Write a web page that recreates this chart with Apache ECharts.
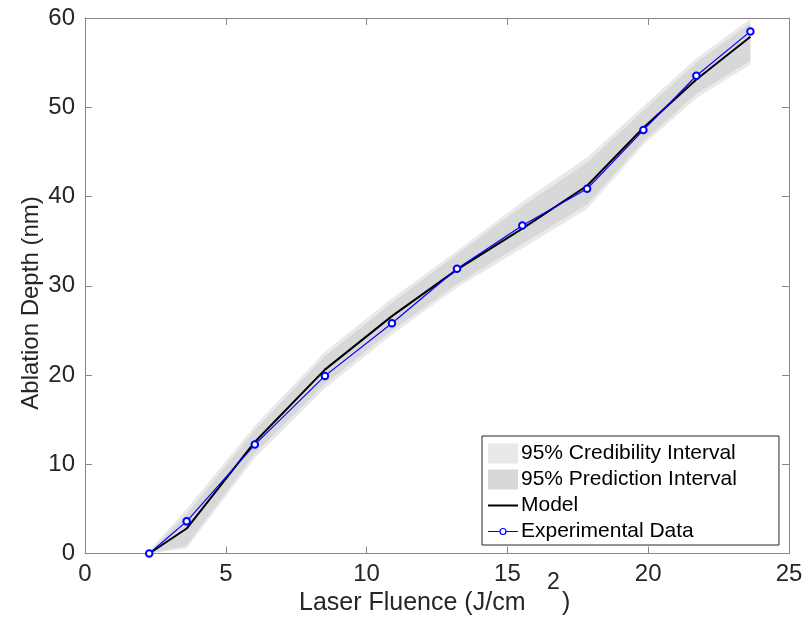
<!DOCTYPE html>
<html>
<head>
<meta charset="utf-8">
<script src="https://cdn.jsdelivr.net/npm/echarts@6/dist/echarts.min.js"></script>
<style>
html,body{margin:0;padding:0;background:#fff;}
#chart{width:811px;height:627px;}
</style>
</head>
<body>
<div id="chart"></div>
<script>
// ---- data ----
var fluence      = [2.28, 3.61, 6.03, 8.52, 10.90, 13.21, 15.53, 17.83, 19.83, 21.71, 23.63];
var experimental = [0.0, 3.6, 12.2, 19.9, 25.8, 31.9, 36.75, 40.86, 47.44, 53.53, 58.5];
var model        = [0.0, 2.8, 12.5, 20.6, 26.6, 31.8, 36.4, 41.2, 47.7, 53.1, 57.9];
var credLower    = [0.0, 0.6, 10.7, 18.5, 24.5, 29.8, 34.2, 38.6, 45.8, 51.0, 54.8];
var credUpper    = [0.3, 5.0, 14.3, 22.6, 28.6, 33.9, 39.4, 44.4, 50.1, 55.5, 59.9];
var predLower    = [0.0, 0.9, 11.2, 19.0, 25.0, 30.2, 34.7, 39.1, 46.2, 51.5, 55.2];
var predUpper    = [0.1, 4.4, 13.8, 22.1, 28.1, 33.5, 38.9, 43.8, 49.6, 55.0, 59.4];
var xTicks = {min: 0, max: 25, interval: 5};
var yTicks = {min: 0, max: 60, interval: 10};
var names = ['95% Credibility Interval', '95% Prediction Interval', 'Model', 'Experimental Data'];

var FONT = '"Liberation Sans", Arial, Helvetica, sans-serif';
var AXIS_COLOR = '#888888';
var TEXT_COLOR = '#262626';

// legend icon shapes (30 x 20 box; tiny corner specks fix the bounding box)
var BOX = 'M0,0 L0.01,0 L0,0.01 Z M30,20 L29.99,20 L30,19.99 Z ';
var ICON_MODEL = 'path://' + BOX + 'M0,9 L30,9 L30,11 L0,11 Z';
var ICON_EXP = 'path://' + BOX +
  'M0,9.4 L11.6,9.4 L11.6,10.6 L0,10.6 Z M18.4,9.4 L30,9.4 L30,10.6 L18.4,10.6 Z ' +
  'M18.6,10 A3.6,3.6 0 1,0 11.4,10 A3.6,3.6 0 1,0 18.6,10 Z ' +
  'M17.4,10 A2.4,2.4 0 1,1 12.6,10 A2.4,2.4 0 1,1 17.4,10 Z';

function bandData(lower, upper) {
  return fluence.map(function (x, i) { return [x, lower[i], upper[i]]; });
}
function bandRender(lower, upper, color) {
  return function (params, api) {
    if (params.dataIndex !== 0) return null;
    var pts = [];
    for (var i = 0; i < fluence.length; i++) pts.push(api.coord([fluence[i], upper[i]]));
    for (var j = fluence.length - 1; j >= 0; j--) pts.push(api.coord([fluence[j], lower[j]]));
    return {type: 'polygon', shape: {points: pts}, style: {fill: color}, silent: true};
  };
}
function pairs(ys) { return fluence.map(function (x, i) { return [x, ys[i]]; }); }

var axisCommon = {
  axisLine: {show: true, onZero: false, lineStyle: {color: AXIS_COLOR, width: 1}},
  axisTick: {show: true, inside: true, length: 7, lineStyle: {color: AXIS_COLOR}},
  splitLine: {show: false}
};

var chart = echarts.init(document.getElementById('chart'), null, {renderer: 'canvas'});
chart.setOption({
  animation: false,
  backgroundColor: '#ffffff',
  grid: {left: 85, right: 22, top: 18, bottom: 73.5, containLabel: false},
  xAxis: [
    Object.assign({type: 'value', position: 'bottom', min: xTicks.min, max: xTicks.max, interval: xTicks.interval,
      axisLabel: {show: true, margin: 9, fontSize: 24, color: TEXT_COLOR, fontFamily: FONT}}, axisCommon),
    Object.assign({type: 'value', position: 'top', min: xTicks.min, max: xTicks.max, interval: xTicks.interval,
      axisLabel: {show: false}}, axisCommon)
  ],
  yAxis: [
    Object.assign({type: 'value', position: 'left', min: yTicks.min, max: yTicks.max, interval: yTicks.interval,
      axisLabel: {show: true, margin: 10, fontSize: 24, color: TEXT_COLOR, fontFamily: FONT}}, axisCommon),
    Object.assign({type: 'value', position: 'right', min: yTicks.min, max: yTicks.max, interval: yTicks.interval,
      axisLabel: {show: false}}, axisCommon)
  ],
  legend: {
    orient: 'vertical',
    left: 482, top: 436,
    padding: [7, 42, 3, 6],
    itemGap: 5,
    itemWidth: 30, itemHeight: 20,
    backgroundColor: '#ffffff',
    borderColor: '#262626', borderWidth: 1, borderRadius: 0,
    textStyle: {fontSize: 21, lineHeight: 20, color: '#000000', fontFamily: FONT, padding: [0, 0, 0, -2]},
    data: [
      {name: names[0], icon: 'rect'},
      {name: names[1], icon: 'rect'},
      {name: names[2], icon: ICON_MODEL, itemStyle: {borderWidth: 0, borderColor: 'transparent'}},
      {name: names[3], icon: ICON_EXP, itemStyle: {color: '#0000ff', borderWidth: 0, borderColor: 'transparent'}}
    ]
  },
  graphic: [
    {type: 'text', left: 299, top: 591, z: 100,
      style: {text: 'Laser Fluence (J/cm', fontSize: 25, fontFamily: FONT, fill: TEXT_COLOR}},
    {type: 'text', left: 547, top: 571, z: 100,
      style: {text: '2', fontSize: 23, fontFamily: FONT, fill: TEXT_COLOR}},
    {type: 'text', left: 562, top: 591, z: 100,
      style: {text: ')', fontSize: 25, fontFamily: FONT, fill: TEXT_COLOR}},
    {type: 'text', x: 31, y: 303, rotation: Math.PI / 2, z: 100,
      style: {text: 'Ablation Depth (nm)', fontSize: 24, fontFamily: FONT, fill: TEXT_COLOR,
        align: 'center', verticalAlign: 'middle'}}
  ],
  series: [
    {name: names[0], type: 'custom', coordinateSystem: 'cartesian2d', xAxisIndex: 0, yAxisIndex: 0,
      itemStyle: {color: '#e9e9e9'}, encode: {x: 0, y: [1, 2]}, z: 1,
      data: bandData(credLower, credUpper), renderItem: bandRender(credLower, credUpper, '#e9e9e9')},
    {name: names[1], type: 'custom', coordinateSystem: 'cartesian2d', xAxisIndex: 0, yAxisIndex: 0,
      itemStyle: {color: '#d8d8d8'}, encode: {x: 0, y: [1, 2]}, z: 2,
      data: bandData(predLower, predUpper), renderItem: bandRender(predLower, predUpper, '#d8d8d8')},
    {name: names[2], type: 'line', xAxisIndex: 0, yAxisIndex: 0, z: 3,
      data: pairs(model), symbol: 'none', showSymbol: false,
      lineStyle: {color: '#000000', width: 2}, itemStyle: {color: '#000000'}},
    {name: names[3], type: 'line', xAxisIndex: 0, yAxisIndex: 0, z: 4,
      data: pairs(experimental), symbol: 'emptyCircle', symbolSize: 6.5, showSymbol: true,
      lineStyle: {color: '#0000ff', width: 1.2},
      itemStyle: {color: '#0000ff', borderColor: '#0000ff', borderWidth: 1.2}}
  ]
});
</script>
</body>
</html>
